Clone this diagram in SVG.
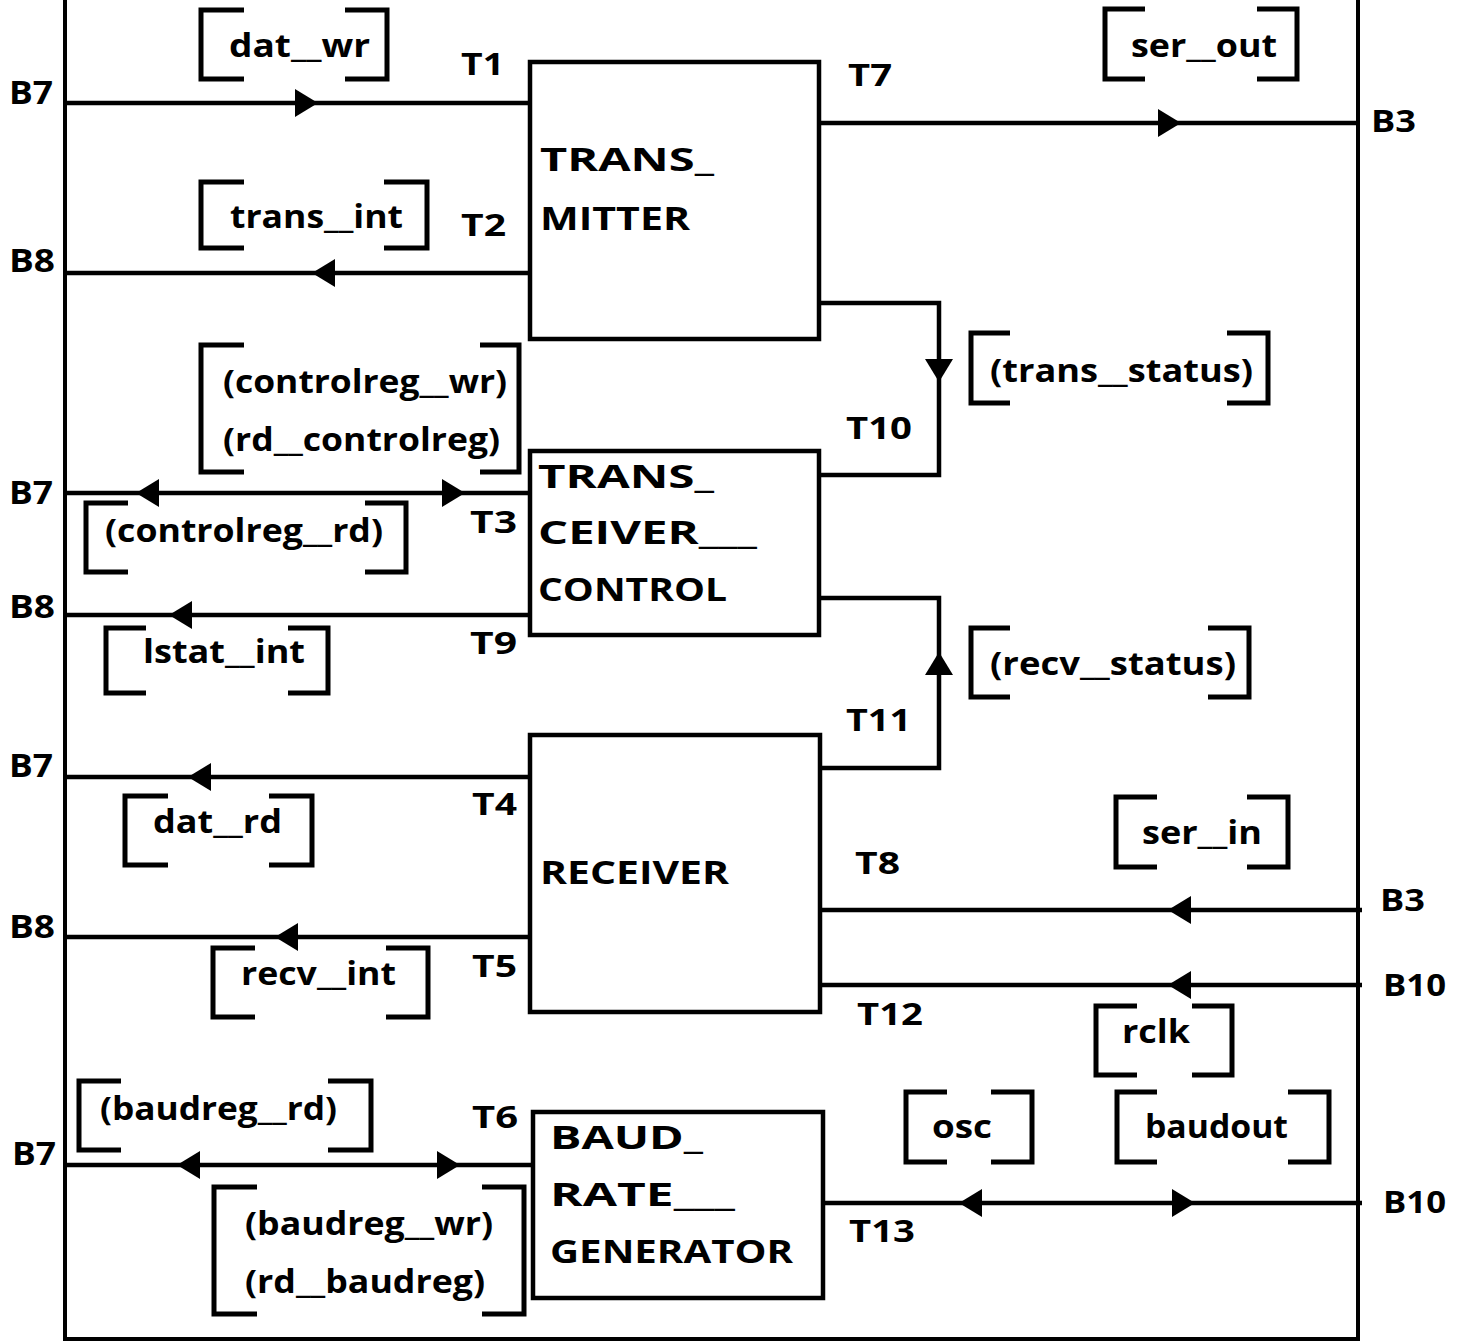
<svg xmlns="http://www.w3.org/2000/svg" xmlns:xlink="http://www.w3.org/1999/xlink" width="1466" height="1342" viewBox="0 0 1466 1342">
<style>
.ln{stroke:#000;stroke-width:4.5;fill:none}
.fr{stroke:#000;stroke-width:4;fill:none}
.br{stroke:#000;stroke-width:5;fill:none}
.box{fill:#fff;stroke:#000;stroke-width:4.5}
text{font-family:"Open Sans","DejaVu Sans",sans-serif;font-weight:700;fill:#000}
.lb{font-size:32px}
.tl{font-size:31px}
.bl{font-size:33px}
.nl{font-size:33px}
</style>
<defs>
<path id="ar" d="M0,0 L-23,-14 L-23,14 Z" fill="#000"/>
</defs>
<rect width="1466" height="1342" fill="#fff"/>
<g id="frame">
<path class="fr" d="M65,0 V1339 H1358 V0"/>
</g>
<g id="connectors">
<path class="ln" d="M65,103 H530"/>
<path class="ln" d="M65,273 H530"/>
<path class="ln" d="M65,493 H530"/>
<path class="ln" d="M65,615 H530"/>
<path class="ln" d="M65,777 H530"/>
<path class="ln" d="M65,937 H530"/>
<path class="ln" d="M65,1165 H533"/>
<path class="ln" d="M818,123 H1358"/>
<path class="ln" d="M818,303 H939 V475 H818"/>
<path class="ln" d="M818,598 H939 V768 H818"/>
<path class="ln" d="M818,910 H1362"/>
<path class="ln" d="M818,985 H1362"/>
<path class="ln" d="M822,1203 H1362"/>
<use xlink:href="#ar" transform="translate(318,103)"/>
<use xlink:href="#ar" transform="translate(312,273) rotate(180)"/>
<use xlink:href="#ar" transform="translate(136,493) rotate(180)"/>
<use xlink:href="#ar" transform="translate(465,493)"/>
<use xlink:href="#ar" transform="translate(169,615) rotate(180)"/>
<use xlink:href="#ar" transform="translate(188,777) rotate(180)"/>
<use xlink:href="#ar" transform="translate(275,937) rotate(180)"/>
<use xlink:href="#ar" transform="translate(177,1165) rotate(180)"/>
<use xlink:href="#ar" transform="translate(460,1165)"/>
<use xlink:href="#ar" transform="translate(1181,123)"/>
<use xlink:href="#ar" transform="translate(939,382) rotate(90)"/>
<use xlink:href="#ar" transform="translate(939,652) rotate(-90)"/>
<use xlink:href="#ar" transform="translate(1168,910) rotate(180)"/>
<use xlink:href="#ar" transform="translate(1168,985) rotate(180)"/>
<use xlink:href="#ar" transform="translate(959,1203) rotate(180)"/>
<use xlink:href="#ar" transform="translate(1195,1203)"/>
</g>
<g id="brackets">
<path class="br" d="M244,10 H201 V79 H244 M345,10 H387 V79 H345"/>
<path class="br" d="M244,182 H201 V248 H244 M384,182 H427 V248 H384"/>
<path class="br" d="M1145,9 H1105 V79 H1145 M1257,9 H1297 V79 H1257"/>
<path class="br" d="M244,345 H201 V472 H244 M480,345 H519 V472 H480"/>
<path class="br" d="M128,503 H86 V572 H128 M365,503 H406 V572 H365"/>
<path class="br" d="M146,628 H106 V693 H146 M288,628 H328 V693 H288"/>
<path class="br" d="M1010,333 H971 V403 H1010 M1227,333 H1268 V403 H1227"/>
<path class="br" d="M1010,628 H971 V697 H1010 M1208,628 H1249 V697 H1208"/>
<path class="br" d="M168,796 H125 V865 H168 M269,796 H312 V865 H269"/>
<path class="br" d="M255,948 H213 V1017 H255 M386,948 H428 V1017 H386"/>
<path class="br" d="M1157,797 H1116 V867 H1157 M1247,797 H1288 V867 H1247"/>
<path class="br" d="M1137,1006 H1096 V1075 H1137 M1192,1006 H1232 V1075 H1192"/>
<path class="br" d="M947,1092 H906 V1162 H947 M991,1092 H1032 V1162 H991"/>
<path class="br" d="M1157,1092 H1117 V1162 H1157 M1288,1092 H1329 V1162 H1288"/>
<path class="br" d="M121,1081 H79 V1150 H121 M328,1081 H371 V1150 H328"/>
<path class="br" d="M257,1187 H214 V1314 H257 M482,1187 H524 V1314 H482"/>
</g>
<g id="labels">
<text class="lb" x="229" y="57" textLength="141" lengthAdjust="spacingAndGlyphs">dat__wr</text>
<text class="lb" x="230" y="228" textLength="173" lengthAdjust="spacingAndGlyphs">trans__int</text>
<text class="lb" x="1131" y="57" textLength="146" lengthAdjust="spacingAndGlyphs">ser__out</text>
<text class="lb" x="223" y="393" textLength="284" lengthAdjust="spacingAndGlyphs">(controlreg__wr)</text>
<text class="lb" x="223" y="451" textLength="277" lengthAdjust="spacingAndGlyphs">(rd__controlreg)</text>
<text class="lb" x="105" y="542" textLength="278" lengthAdjust="spacingAndGlyphs">(controlreg__rd)</text>
<text class="lb" x="143" y="663" textLength="162" lengthAdjust="spacingAndGlyphs">lstat__int</text>
<text class="lb" x="990" y="382" textLength="263" lengthAdjust="spacingAndGlyphs">(trans__status)</text>
<text class="lb" x="990" y="675" textLength="246" lengthAdjust="spacingAndGlyphs">(recv__status)</text>
<text class="lb" x="153" y="833" textLength="129" lengthAdjust="spacingAndGlyphs">dat__rd</text>
<text class="lb" x="241" y="985" textLength="155" lengthAdjust="spacingAndGlyphs">recv__int</text>
<text class="lb" x="1142" y="844" textLength="120" lengthAdjust="spacingAndGlyphs">ser__in</text>
<text class="lb" x="1122" y="1043" textLength="68" lengthAdjust="spacingAndGlyphs">rclk</text>
<text class="lb" x="932" y="1138" textLength="60" lengthAdjust="spacingAndGlyphs">osc</text>
<text class="lb" x="1145" y="1138" textLength="143" lengthAdjust="spacingAndGlyphs">baudout</text>
<text class="lb" x="100" y="1120" textLength="237" lengthAdjust="spacingAndGlyphs">(baudreg__rd)</text>
<text class="lb" x="245" y="1235" textLength="248" lengthAdjust="spacingAndGlyphs">(baudreg__wr)</text>
<text class="lb" x="245" y="1293" textLength="240" lengthAdjust="spacingAndGlyphs">(rd__baudreg)</text>
<text class="tl" x="461" y="75" textLength="43" lengthAdjust="spacingAndGlyphs">T1</text>
<text class="tl" x="461" y="236" textLength="45" lengthAdjust="spacingAndGlyphs">T2</text>
<text class="tl" x="848" y="86" textLength="44" lengthAdjust="spacingAndGlyphs">T7</text>
<text class="tl" x="846" y="439" textLength="66" lengthAdjust="spacingAndGlyphs">T10</text>
<text class="tl" x="470" y="533" textLength="47" lengthAdjust="spacingAndGlyphs">T3</text>
<text class="tl" x="470" y="654" textLength="47" lengthAdjust="spacingAndGlyphs">T9</text>
<text class="tl" x="846" y="731" textLength="65" lengthAdjust="spacingAndGlyphs">T11</text>
<text class="tl" x="472" y="815" textLength="45" lengthAdjust="spacingAndGlyphs">T4</text>
<text class="tl" x="855" y="874" textLength="45" lengthAdjust="spacingAndGlyphs">T8</text>
<text class="tl" x="472" y="977" textLength="45" lengthAdjust="spacingAndGlyphs">T5</text>
<text class="tl" x="857" y="1025" textLength="66" lengthAdjust="spacingAndGlyphs">T12</text>
<text class="tl" x="472" y="1128" textLength="46" lengthAdjust="spacingAndGlyphs">T6</text>
<text class="tl" x="849" y="1242" textLength="66" lengthAdjust="spacingAndGlyphs">T13</text>
<text class="bl" x="9" y="104" textLength="44" lengthAdjust="spacingAndGlyphs">B7</text>
<text class="bl" x="9" y="272" textLength="46" lengthAdjust="spacingAndGlyphs">B8</text>
<text class="bl" x="9" y="504" textLength="44" lengthAdjust="spacingAndGlyphs">B7</text>
<text class="bl" x="9" y="618" textLength="46" lengthAdjust="spacingAndGlyphs">B8</text>
<text class="bl" x="9" y="777" textLength="44" lengthAdjust="spacingAndGlyphs">B7</text>
<text class="bl" x="9" y="938" textLength="46" lengthAdjust="spacingAndGlyphs">B8</text>
<text class="bl" x="12" y="1165" textLength="44" lengthAdjust="spacingAndGlyphs">B7</text>
<text class="tl" x="1371" y="132" textLength="45" lengthAdjust="spacingAndGlyphs">B3</text>
<text class="tl" x="1380" y="911" textLength="45" lengthAdjust="spacingAndGlyphs">B3</text>
<text class="tl" x="1383" y="996" textLength="63" lengthAdjust="spacingAndGlyphs">B10</text>
<text class="tl" x="1383" y="1213" textLength="63" lengthAdjust="spacingAndGlyphs">B10</text>
</g>
<g id="transmitter">
<rect class="box" x="530" y="62" width="289" height="277"/>
<text class="nl" x="540" y="171" textLength="174" lengthAdjust="spacingAndGlyphs">TRANS_</text>
<text class="nl" x="540" y="230" textLength="150" lengthAdjust="spacingAndGlyphs">MITTER</text>
</g>
<g id="transceiver_control">
<rect class="box" x="530" y="451" width="289" height="184"/>
<text class="nl" x="538" y="488" textLength="176" lengthAdjust="spacingAndGlyphs">TRANS_</text>
<text class="nl" x="538" y="544" textLength="219" lengthAdjust="spacingAndGlyphs">CEIVER___</text>
<text class="nl" x="538" y="601" textLength="189" lengthAdjust="spacingAndGlyphs">CONTROL</text>
</g>
<g id="receiver">
<rect class="box" x="530" y="735" width="290" height="277"/>
<text class="nl" x="540" y="884" textLength="189" lengthAdjust="spacingAndGlyphs">RECEIVER</text>
</g>
<g id="baud_rate_generator">
<rect class="box" x="533" y="1112" width="290" height="186"/>
<text class="nl" x="550" y="1149" textLength="153" lengthAdjust="spacingAndGlyphs">BAUD_</text>
<text class="nl" x="550" y="1206" textLength="185" lengthAdjust="spacingAndGlyphs">RATE___</text>
<text class="nl" x="550" y="1263" textLength="243" lengthAdjust="spacingAndGlyphs">GENERATOR</text>
</g>
</svg>
